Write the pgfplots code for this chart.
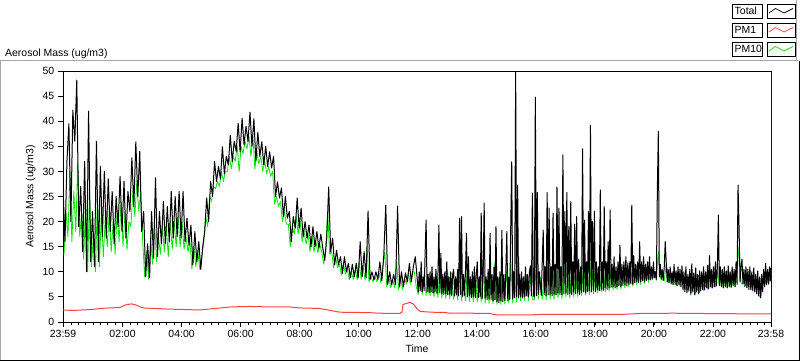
\documentclass[border=0pt]{standalone}
\usepackage{fontspec}
\setmainfont{Liberation Sans}
\usepackage{pgfplots}
\pgfplotsset{compat=1.18}
\definecolor{pmred}{RGB}{255,64,64}
\definecolor{pmgreen}{RGB}{0,230,0}
\begin{document}
\fontsize{10.5}{12}\selectfont
\begin{tikzpicture}
\begin{scope}[x=1bp,y=1bp]
\path[use as bounding box] (0,0) rectangle (800,361);
% panel frame
\draw[gray!70, line width=1bp] (0.5,0.5) -- (0.5,300.5) -- (798,300.5);
\draw[black, line width=1bp] (799.5,300.5) -- (799.5,0.5) -- (0.5,0.5);
\draw[gray!70, line width=1bp] (796.5,300.5) -- (796.5,361);
\node[anchor=base west, inner sep=0] at (5,305) {Aerosol Mass (ug/m3)};
% legend
\foreach \lab/\col/\yb in {Total/black/343, PM1/pmred/324, PM10/pmgreen/305} {
  \draw[black, line width=0.8bp] (732.5,\yb) rectangle (762.5,\yb+14);
  \node[anchor=base west, inner sep=0] at (734.5,\yb+3.2) {\lab};
  \draw[black, line width=0.8bp] (767.5,\yb) rectangle (795.5,\yb+14);
  \draw[\col, line width=0.7bp] (769,\yb+5) -- (775.5,\yb+9.5) -- (784,\yb+5) -- (793,\yb+9.5);
}
\end{scope}
\begin{axis}[
  at={(63bp,39bp)}, anchor=south west,
  scale only axis, width=708bp, height=251bp,
  xmin=0, xmax=1439, ymin=0, ymax=50,
  ytick={0,5,...,50},
  xtick={0,121,241,361,481,601,721,841,961,1081,1201,1321,1439},
  xticklabels={23:59,02:00,04:00,06:00,08:00,10:00,12:00,14:00,16:00,18:00,20:00,22:00,23:58},
  minor xtick={16,31,...,1426},
  tick pos=left, tick align=outside,
  major tick length=5bp, minor tick length=3bp,
  major tick style={black, line width=0.9bp},
  minor tick style={black, line width=0.7bp},
  axis line style={black, line width=1bp},
  ylabel={Aerosol Mass (ug/m3)}, xlabel={Time},
  ticklabel style={font=\fontsize{10.5}{12}\selectfont},
  label style={font=\fontsize{10.5}{12}\selectfont},
  /pgf/number format/assume math mode=true,
  clip=true,
]
% PM10
\addplot[pmgreen, line width=0.8bp, line join=round] coordinates {
(2,13.3)(6,22)(10,17)(14,30)(18,16)(22,26)(26,18)(30,31.7)(34,17)(38,22)(42,12.5)(46,24)(50,10)(54,26)(58,11)
(62,18)(66,10)(70,25)(74,11)(78,22)(82,13)(86,21)(90,15)(94,22)(98,14)(102,20)(106,13.5)(110,22)(114,16)(118,24)
(122,15)(126,22)(130,14.4)(134,20)(138,19)(142,26)(146,21)(150,28)(154,22)(158,26)(162,16)(166,9)(170,14)(174,8.5)
(178,17)(182,11.5)(186,20)(190,12)(194,17)(198,13.5)(202,19)(206,14)(210,19)(214,13)(218,20)(222,14.5)(226,20)
(230,15)(234,21)(238,15)(242,20)(246,14.5)(250,17)(254,14)(258,16)(262,10.5)(266,15)(270,11)(274,14)(278,10.5)
(282,13)(286,16)(290,21)(294,19)(298,25)
(302,24)(306,27)(310,26.5)(314,28)(318,27)(322,30)(326,28)(330,30)(334,30)(338,33)(342,30.5)(346,33)(350,32)
(354,35)(358,30)(362,35)(366,33.5)(370,36)(374,34.5)(378,37)(382,33)(386,37)(390,30.5)(394,34)(398,31.5)(402,33)
(406,30)(410,32)(414,29.5)(418,31)(422,29)(426,30)(430,23.5)(434,25)(438,23)(442,24)(446,20)(450,22)(454,19.5)
(458,19.5)(462,15)(466,19)(470,17.5)(474,21)(478,17.5)(482,20)(486,16)(490,18)(494,15.5)
(498,17.5)(502,14)(506,17)(510,14)(514,16)(518,13.8)(522,15.5)(526,13.8)(530,11.5)(534,14.5)(538,22)(542,13.5)
(546,14)(550,10.8)(554,13)(558,10.8)(562,11.5)(566,9.3)(570,11.5)(574,9.5)(578,10.5)(582,8.4)(586,10)(590,8.5)
(594,10.5)(598,8.4)(602,12)(606,8.5)(610,11)(614,8.3)(618,15)(622,8)(626,9)(630,8)(634,9)(638,8)(642,10)(646,7.8)
(650,11)(654,14)(658,7)(662,9)(666,6.8)(670,8.5)(674,6.8)(678,12)(682,6.5)(686,9)(690,6.5)(694,8.8)(698,7.5)
(702,10)(706,7.5)(710,10)(714,10)(718,7)(722,5.5)(726,9)(730,5.5)(734,9.5)(738,5.3)(742,9)(746,5.2)(750,9.5)
(754,5)(758,8.5)(762,4.9)(766,11)(770,4.8)(774,9)(778,4.7)(782,10)(786,4.6)(790,8.5)(794,4.5)(798,9)(802,4.4)
(806,12)(810,4.3)(814,8.5)(818,4.2)(822,11)(826,4.1)(830,8.5)(834,4)(838,9)(842,4)(846,8.5)(850,4)(854,12)
(858,3.8)(862,8.5)(866,3.7)(870,9)(874,3.6)(878,12)(882,3.5)(886,8.5)(890,3.5)(894,9)(898,3.6)(902,10)(906,3.8)
(910,12)(914,3.8)(918,9)(922,4)(926,13)(930,4.2)(934,8.5)(938,4.3)(942,9)(946,4.3)(950,9)(954,4.5)(958,4.5)
(962,12)(966,4.6)(970,9)(974,4.5)(978,10)(982,4.4)(986,12)(990,4.6)(994,9)(998,4.5)(1002,10)(1006,4.8)(1010,9.5)
(1014,4.7)(1018,11)(1022,5)(1026,9)(1030,4.8)(1034,11)(1038,5)(1042,9.5)(1046,5.1)(1050,9)(1054,5.3)(1058,12)
(1062,5.4)(1066,9.5)(1070,5.5)(1074,13)(1078,5.6)(1082,10)(1086,5.8)(1090,9.5)(1094,6)(1098,11)(1102,6)(1106,10)
(1110,6.2)(1114,10.5)(1118,6.4)(1122,9.5)(1126,6.5)(1130,10)(1134,6.6)(1138,10)(1142,6.8)(1146,10)(1150,7)
(1154,10.5)(1158,7.2)(1162,10)(1166,7.4)(1170,10.5)(1174,7.5)(1178,10)(1182,7.7)(1186,10.5)(1190,7.9)(1194,10)
(1198,8.4)(1202,10)(1206,8.3)(1210,14)(1214,8.8)(1218,9.5)(1222,8.2)(1226,11.5)(1230,7.8)(1234,9.5)(1238,7.5)
(1242,10)(1246,7.3)(1250,9.5)(1254,7.2)(1258,10)(1262,6.2)(1266,9.5)(1270,6)(1274,9)(1278,5.8)(1282,9)(1286,5.7)
(1290,9)(1294,5.8)(1298,9.5)(1302,6.3)(1306,9.5)(1310,6.6)(1314,11)(1318,6.8)(1322,9.5)(1326,7)(1330,10)
(1334,7.2)(1338,9.5)(1342,6.8)(1346,9.5)(1350,6.8)(1354,9.5)(1358,6.9)(1362,9.5)(1366,7)(1370,10)(1374,15)
(1378,7.8)(1382,7.5)(1386,9.5)(1390,6.8)(1394,9.5)(1398,6.4)(1402,9)(1406,6)(1410,8.5)(1414,5.3)(1418,4.9)
(1422,8.5)(1426,7)(1430,9.5)(1434,7.5)(1439,9.8)
};
% Total
\addplot[black, line width=1bp, line join=round] coordinates {
(0,27)(4,16)(8,32)(12,39.5)(16,20)(20,42.2)(24,36)(28,48.2)(32,19)(36,27)(40,14)(44,32)(48,10)(52,42)(56,12)
(60,22)(64,11)(68,36)(72,12)(76,31)(80,17)(84,30)(88,16.7)(92,28.5)(96,18)(100,26)(104,15.6)(108,25)
(112,19)(116,29)(120,18)(124,28)(128,16.7)(132,26)(136,22)(140,32.7)
(144,23)(148,35.9)(152,25)(156,34)(160,18)
(164,22)(168,9)(172,15.6)(176,8.8)(180,22)(184,12.7)(188,28.7)(192,13)(196,22)(200,15.6)(204,24)(208,15.6)
(212,23)(216,16)(220,26)(224,16.7)(228,25)(232,17)(236,26)(240,16.7)
(244,26)(248,16)(252,20.7)(256,15.3)(260,19.3)(264,11.4)(268,18)(272,12)(276,16)(280,10.5)(284,15)(288,18)
(292,24.7)(296,20)(300,28)
(304,25)(308,32)(312,28)(316,31)(320,28.5)(324,34.9)(328,29.5)(332,33)(336,31.3)(340,37.2)(344,32)(348,36)
(352,34)(356,39.6)(360,33.9)(364,40.6)(368,35.3)(372,39)(376,36)(380,41.8)(384,35)(388,40.5)(392,32)(396,37.8)
(400,33)(404,35.9)(408,31.3)(412,35)(416,31)(420,33.9)(424,30.7)(428,33)(432,25)(436,27.9)(440,24.7)(444,26.7)
(448,21)(452,25)(456,20.7)(460,22)(464,16)(468,21)(472,18.7)(476,24.7)
(480,18.7)(484,22.7)(488,17)(492,20)(496,16.7)(500,19.3)(504,15)(508,19)(512,15)(516,18)(520,14.7)(524,17.5)
(528,14.7)(532,12.3)(536,16.7)(540,26.9)(544,14)(548,16.7)(552,11.4)(556,14.3)(560,11.4)(564,13)(568,9.7)
(572,13)(576,10)(580,11.7)(584,8.8)(588,11.5)(592,9)(596,11.7)(600,8.8)(604,16)(608,9)(612,14)(616,8.8)
(620,22.1)(624,8.5)(628,10)(632,8.4)(636,10)(640,8.5)(644,12)(648,8.2)(652,13.3)(656,23.3)(660,7.5)(664,10)
(668,7.4)(672,9.5)(676,7.4)(680,23.1)(684,7)(688,10)(692,7)(696,9.8)(700,8)(704,11.7)(708,8)(712,11)(716,13)
(720,8.5)
(722,6)(724,10)(726,6.2)(728,12)(730,6)(732,9)(734,6.3)(736,13.7)(738,20.3)(740,6)(742,9.5)(744,5.8)(746,10)
(748,6)(750,11)(752,5.8)(754,9)(756,6)(758,10.5)(760,5.7)(762,9)(764,19.3)(766,5.8)(768,13.7)(770,5.6)(772,9.5)
(774,5.5)(776,10)(778,5.6)(780,12)(782,5.4)(784,9)(786,5.5)(788,10)(790,5.3)(792,9.5)(794,10.5)(796,5.2)(798,9)
(800,5.4)(802,10.5)(804,5.2)(806,20.7)(808,5.5)(810,21)(812,5.1)(814,9.5)(816,5.3)(818,10)(820,17.7)(822,5)
(824,13)(826,5.2)(828,9)(830,4.9)(832,10)(834,5)(836,11)(838,4.8)(840,9.5)(842,12)(844,4.8)(846,9)(848,5)
(850,21.7)(852,4.6)(854,10)(856,23.7)(858,4.7)(860,9)(862,4.5)(864,10.5)(866,4.6)(868,17.7)(870,4.5)(872,9.5)
(874,4.2)(876,11)(878,4.4)(880,19)(882,4)(884,9)(886,3.8)(888,10)(890,4.2)(892,18.3)(894,4)(896,9.5)(898,4.3)
(900,10)(902,18)(904,4.2)(906,9)(908,4.5)(910,19)(912,31.9)(914,4.6)(916,10)(918,4.8)(920,49.8)(922,5)
(924,27.3)(926,4.8)(928,9.5)(930,5)(932,10)(934,4.8)(936,9)(938,5)(940,11)(942,5.2)(944,9.5)(946,5)(948,10)
(950,11.2)(952,5.2)(954,25.7)
(956,5.3)(958,5)(960,44.8)(962,5.2)(964,25.8)(966,5.5)(968,10)(972,5.3)(976,18.3)(978,5.5)(980,11)(982,5.2)
(984,25.8)(986,5.4)(988,22.7)(990,5.5)(992,11)(994,5.2)(996,21.7)(998,5.6)(1000,11.5)(1002,5.4)(1004,26.9)
(1006,5.8)(1008,22.7)(1010,5.5)(1012,11)(1014,5.4)(1016,33.3)(1018,5.6)(1020,22)(1022,5.8)(1024,25.8)(1026,5.5)
(1028,19)(1030,5.7)(1032,24)(1034,5.5)(1036,12)(1038,6)(1040,19.5)(1042,5.6)(1044,21)(1046,5.8)(1048,12.5)
(1050,5.5)(1052,11)(1054,5.9)(1056,34.5)(1058,6)(1060,20.3)(1062,5.8)(1064,12)(1066,6)(1068,22)(1070,6.2)
(1072,39.2)(1074,6)(1076,20)(1078,6.3)(1080,22)(1082,6)(1084,12)(1086,6.4)(1088,11)(1090,6.2)(1092,26.3)
(1094,6.5)(1096,12)(1098,6.3)(1100,23)(1102,6.8)(1104,12)(1106,6.5)(1108,16)(1110,6.8)(1112,22.3)(1114,6.9)
(1116,11.5)(1118,7)(1120,13)(1122,6.8)(1124,11)(1126,7)(1128,12)(1130,7.2)(1132,15.3)(1134,7)(1136,11.5)
(1138,7.3)(1140,12)(1142,7.4)(1144,13)(1146,7.2)(1148,11.8)(1150,7.5)(1152,12)(1154,7.6)(1156,23.3)(1158,7.5)
(1160,13.2)(1162,7.8)(1164,11.5)(1166,8)(1168,12)(1170,7.8)(1172,16)(1174,8)(1176,12)(1178,8.2)(1180,13)
(1182,8)(1184,11.5)(1186,8.3)(1188,12)(1190,8.5)(1192,13)(1194,8.4)
(1196,11)(1198,8.6)(1200,12)(1202,8.8)(1204,10)(1206,8.5)(1208,26.3)(1210,38)(1212,9)(1214,11.5)(1216,8.5)
(1218,10.5)(1220,8.3)(1222,11)(1224,16)(1226,12)(1228,8)(1230,10.5)(1232,7.8)(1234,11)(1236,7.6)(1238,10)
(1240,7.4)(1242,11.5)(1244,7.5)(1246,10.2)(1248,7.2)(1250,11)(1252,7.4)(1254,10.5)(1256,7)(1258,11.2)(1260,6.5)
(1262,10)(1264,6)(1266,11)(1268,5.8)(1270,9.5)(1272,6.2)(1274,10.5)(1276,5.5)(1278,11.6)(1280,6)(1282,9.8)
(1284,5.4)(1286,10.8)(1288,6)(1290,9.5)(1292,5.6)(1294,10.2)(1296,6.2)(1298,10)(1300,6.5)(1302,11)(1304,6.4)
(1306,10)(1308,6.8)(1310,11.3)(1312,6.6)(1314,13.2)(1316,7)(1318,10.5)(1320,6.8)(1322,11)(1324,7)(1326,12)
(1328,7.2)(1330,11)(1332,21.3)(1334,7.3)(1336,11)(1338,7)(1340,10.5)(1342,6.8)(1344,11)(1346,7)(1348,10.2)
(1350,6.8)(1352,11.2)(1354,7)(1356,10)(1358,6.9)(1360,11)(1362,7.2)(1364,10.5)(1366,7)(1368,12)(1370,7.5)
(1372,27.3)(1374,19)(1376,8)(1378,11)(1380,12.5)(1382,7.6)(1384,10.5)(1386,7)(1388,11)(1390,6.8)(1392,10.5)
(1394,6.5)(1396,11)(1398,6.4)(1400,10)(1402,6.2)(1404,10.8)(1406,6)(1408,9.5)(1410,5.6)(1412,10.2)(1414,5.2)
(1416,9)(1418,4.8)(1420,9.5)(1422,6)(1424,10.5)(1426,7)(1428,11.7)(1430,7.4)(1432,10.5)(1434,7.6)(1436,11)
(1438,8.2)(1439,10.8)
};
% PM1
\addplot[pmred, line width=1bp, line join=round] coordinates {
(0,2.4)(20,2.3)(40,2.4)(60,2.5)(75,2.7)(95,2.8)(116,2.9)(122,3.2)(130,3.5)(140,3.6)(148,3.4)(157,3.0)(163,2.8)
(185,2.7)(207,2.6)(240,2.5)(278,2.4)(299,2.6)(320,2.8)(340,3.0)(380,3.1)(420,3.0)(460,3.0)(482,2.8)(522,2.7)
(543,2.3)(563,1.95)(600,1.9)(624,1.85)(644,1.75)(685,1.7)(689,2.0)(691,3.5)(698,3.7)(705,3.9)(712,3.6)(720,2.6)
(726,2.1)(750,1.95)(776,1.9)(787,1.75)(830,1.75)(868,1.7)(878,1.45)(910,1.4)(949,1.4)(970,1.5)(1050,1.5)
(1132,1.5)(1173,1.7)(1240,1.75)(1295,1.7)(1360,1.65)(1439,1.6)
};
\draw[gray!60, line width=1bp] (rel axis cs:1,0) -- (rel axis cs:1,1);
\end{axis}
\end{tikzpicture}
\end{document}
